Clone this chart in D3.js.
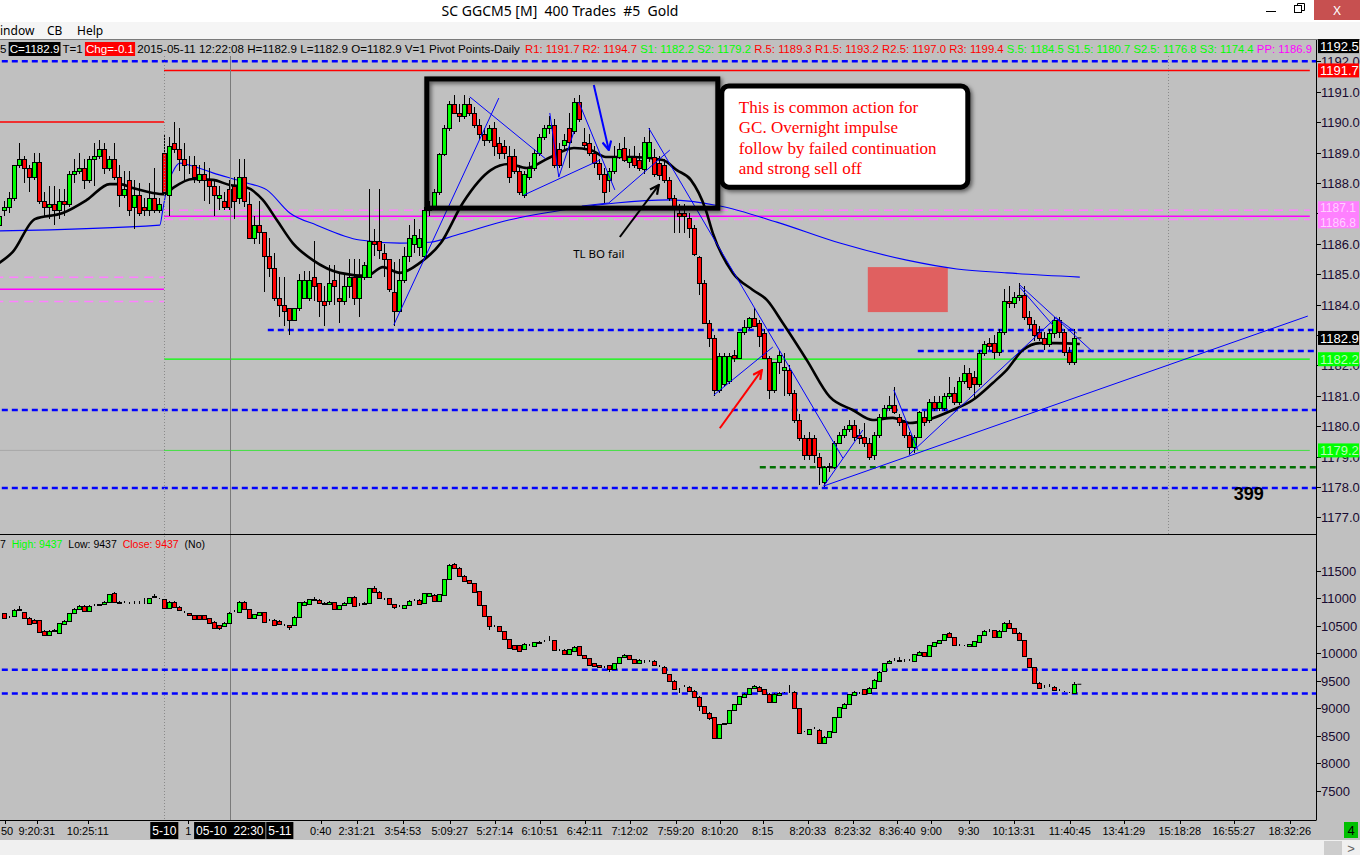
<!DOCTYPE html>
<html><head><meta charset="utf-8">
<script src="https://cdn.jsdelivr.net/npm/d3@7"></script>
<style>
html,body{margin:0;padding:0;background:#fff;overflow:hidden}
svg{display:block;font-family:"Liberation Sans",Arial,sans-serif}
</style></head><body>
<svg id="c" width="1360" height="855"></svg>
<script>
// ---------------- DATA ----------------
const windowTitle = "SC GGCM5 [M]  400 Trades  #5  Gold";
const menuItems = ["indow", "CB", "Help"];

// price bars (400-trade bars), [open, high, low, close]
const priceBars = [
[1186.6,1187.2,1186.3,1186.9],[1187.1,1187.4,1186.9,1187.2],[1187.2,1187.7,1187.0,1187.5],[1187.5,1188.6,1187.4,1188.6],
[1188.6,1189.3,1188.5,1188.8],[1188.8,1188.9,1188.0,1188.5],[1188.5,1188.6,1187.7,1188.2],[1188.2,1189.0,1188.1,1188.7],
[1188.7,1189.0,1187.3,1187.4],[1187.4,1187.7,1186.9,1187.2],[1187.2,1187.9,1186.8,1187.3],[1187.3,1187.9,1186.6,1187.1],
[1187.1,1187.8,1186.8,1187.4],[1187.4,1187.8,1186.9,1187.3],[1187.3,1188.4,1187.2,1188.3],[1188.3,1188.8,1188.0,1188.4],
[1188.4,1189.0,1188.3,1188.5],[1188.5,1188.8,1187.8,1188.1],[1188.1,1188.9,1188.0,1188.8],[1188.8,1189.3,1187.9,1188.9],
[1188.9,1189.4,1188.8,1189.1],[1189.1,1189.3,1188.3,1188.5],[1188.5,1188.9,1188.4,1188.8],[1188.8,1189.3,1188.1,1188.2],
[1188.2,1188.6,1187.2,1187.6],[1187.6,1188.4,1187.5,1187.8],[1188.1,1188.4,1186.9,1187.1],[1187.2,1188.1,1186.5,1187.6],
[1187.6,1188.0,1186.9,1187.0],[1187.2,1187.5,1186.9,1187.1],[1187.1,1188.0,1186.9,1187.5],[1187.5,1188.5,1187.0,1187.1],
[1187.1,1187.5,1187.0,1187.3],[1189.0,1189.6,1187.7,1187.7],[1187.6,1189.5,1186.9,1189.2],[1189.3,1190.0,1189.0,1189.1],
[1189.1,1189.8,1188.4,1188.8],[1188.8,1189.3,1188.1,1188.6],[1188.6,1188.9,1188.3,1188.6],[1188.6,1188.9,1188.0,1188.2],
[1188.1,1188.6,1188.0,1188.3],[1188.3,1188.7,1187.4,1188.1],[1188.1,1188.5,1187.3,1187.9],[1187.9,1188.1,1186.9,1187.6],
[1187.5,1187.9,1187.1,1187.6],[1187.4,1187.7,1187.1,1187.2],[1187.8,1188.1,1187.1,1187.2],[1187.9,1188.2,1186.8,1187.4],
[1187.5,1188.8,1187.3,1188.2],[1188.2,1188.8,1187.2,1187.4],[1187.3,1187.7,1186.2,1186.2],[1186.2,1186.9,1186.0,1186.6],
[1186.6,1187.4,1186.0,1186.4],[1186.4,1186.4,1184.4,1185.6],[1185.6,1186.2,1184.9,1185.2],[1185.2,1185.7,1184.1,1184.2],
[1184.2,1184.9,1183.6,1184.0],[1184.0,1184.9,1183.3,1183.8],[1183.9,1183.9,1183.0,1183.5],[1183.5,1183.9,1183.5,1183.9],
[1183.9,1185.0,1183.8,1184.8],[1184.2,1185.1,1184.2,1184.8],[1184.2,1185.1,1184.1,1184.8],[1184.9,1186.1,1184.1,1184.6],
[1184.7,1184.7,1183.6,1184.1],[1184.1,1184.6,1183.3,1184.0],[1184.1,1185.3,1184.0,1184.7],[1184.8,1185.3,1184.0,1184.6],
[1184.2,1185.0,1183.4,1184.1],[1184.1,1185.0,1184.0,1184.6],[1184.6,1185.5,1184.2,1184.9],[1184.9,1185.5,1184.0,1184.2],
[1184.2,1185.5,1183.6,1184.9],[1184.9,1185.4,1184.8,1185.3],[1184.9,1187.8,1184.9,1186.1],[1186.1,1186.5,1185.6,1186.0],
[1186.1,1187.8,1185.5,1185.8],[1185.7,1186.0,1184.9,1185.5],[1185.5,1185.5,1184.4,1184.5],[1184.4,1185.4,1183.3,1183.8],
[1183.8,1185.5,1183.8,1184.8],[1184.8,1185.9,1184.7,1185.6],[1185.6,1186.6,1185.4,1186.2],[1186.0,1186.8,1185.7,1186.3],
[1185.9,1186.5,1185.6,1186.2],[1185.6,1187.2,1185.5,1187.1],[1187.1,1187.4,1186.9,1187.2],[1187.2,1187.8,1187.1,1187.7],
[1187.7,1189.0,1187.6,1188.95],[1188.95,1189.9,1188.9,1189.8],[1189.8,1190.7,1189.7,1190.6],[1190.6,1190.9,1190.3,1190.3],
[1190.3,1190.6,1190.0,1190.2],[1190.2,1190.9,1190.1,1190.6],[1190.6,1190.8,1190.2,1190.3],[1190.3,1190.5,1189.8,1189.9],
[1189.9,1190.1,1189.4,1189.6],[1189.6,1189.8,1189.2,1189.4],[1189.4,1189.9,1189.3,1189.8],[1189.8,1190.0,1188.9,1189.2],
[1189.3,1189.5,1188.8,1189.0],[1189.2,1189.4,1188.8,1189.0],[1188.9,1189.2,1188.0,1188.2],[1188.9,1189.1,1188.3,1188.4],
[1188.4,1188.6,1187.6,1187.7],[1187.6,1188.4,1187.5,1188.3],[1188.2,1188.7,1188.1,1188.5],[1188.5,1189.1,1188.4,1189.0],
[1189.0,1189.6,1188.9,1189.5],[1189.5,1189.9,1189.4,1189.8],[1189.8,1190.2,1189.6,1189.9],[1189.9,1190.1,1188.5,1188.6],
[1189.1,1189.3,1188.5,1188.6],[1189.25,1189.6,1189.1,1189.4],[1189.8,1190.3,1188.5,1189.35],[1189.7,1190.8,1189.6,1190.65],
[1190.65,1190.9,1190.0,1190.1],[1189.35,1189.8,1189.1,1189.25],[1189.3,1189.6,1188.9,1189.0],[1189.0,1189.2,1188.5,1188.65],
[1188.65,1188.8,1188.1,1188.3],[1188.3,1188.5,1187.35,1187.7],[1188.1,1188.5,1187.7,1188.4],[1188.4,1189.2,1188.3,1188.85],
[1188.85,1189.3,1188.8,1189.1],[1189.15,1189.5,1188.7,1188.75],[1188.7,1189.1,1188.5,1188.85],[1188.85,1189.2,1188.5,1188.6],
[1188.75,1189.0,1188.4,1188.5],[1188.45,1189.5,1188.3,1189.35],[1188.85,1189.8,1188.7,1189.35],[1188.85,1189.1,1188.2,1188.3],
[1188.65,1188.9,1188.1,1188.25],[1188.6,1188.8,1188.0,1188.1],[1188.1,1188.2,1187.4,1187.5],[1187.5,1187.6,1186.35,1187.2],
[1187.0,1187.3,1186.35,1186.9],[1187.0,1187.3,1186.35,1186.9],[1186.85,1187.0,1186.2,1186.5],[1186.5,1186.6,1185.6,1185.65],
[1185.55,1185.6,1184.3,1184.7],[1184.7,1184.8,1183.4,1183.4],[1183.4,1183.5,1182.6,1182.9],[1182.9,1183.0,1181.0,1181.2],
[1181.2,1182.4,1181.1,1182.3],[1181.4,1182.4,1181.3,1182.3],[1181.5,1182.4,1181.4,1182.3],[1182.35,1182.5,1182.1,1182.25],
[1182.25,1183.1,1182.2,1183.1],[1183.1,1183.5,1183.0,1183.25],[1183.25,1183.6,1183.2,1183.55],[1183.55,1183.9,1183.3,1183.3],
[1183.4,1183.5,1182.6,1182.95],[1183.05,1183.2,1182.2,1182.25],[1182.25,1182.3,1180.9,1181.2],[1181.2,1182.1,1181.1,1182.1],
[1182.1,1182.5,1181.7,1182.35],[1181.85,1182.4,1181.0,1181.95],[1181.85,1182.0,1181.0,1181.1],[1181.1,1181.2,1180.1,1180.2],
[1180.2,1180.4,1179.5,1179.6],[1179.6,1179.7,1178.9,1179.05],[1179.6,1179.8,1178.9,1179.05],[1179.6,1179.7,1178.8,1179.05],
[1179.0,1179.1,1178.05,1178.65],[1178.15,1178.7,1178.0,1178.65],[1178.65,1178.8,1178.5,1178.7],[1178.65,1179.5,1178.6,1179.45],
[1179.45,1179.8,1179.4,1179.7],[1179.7,1180.0,1179.6,1179.9],[1179.9,1180.2,1179.8,1180.05],[1180.05,1180.2,1179.5,1179.65],
[1179.7,1179.9,1179.4,1179.6],[1179.65,1180.1,1179.3,1179.45],[1179.45,1179.6,1178.9,1179.0],[1179.05,1179.8,1178.9,1179.7],
[1179.7,1180.4,1179.6,1180.3],[1180.3,1180.7,1180.2,1180.6],[1180.6,1181.0,1180.5,1180.7],[1180.7,1181.3,1180.4,1180.45],
[1180.3,1180.4,1180.0,1180.15],[1180.15,1180.2,1179.6,1179.7],[1179.7,1179.8,1179.05,1179.3],[1179.3,1179.7,1179.1,1179.65],
[1179.65,1180.5,1179.6,1180.45],[1180.3,1180.5,1180.0,1180.15],[1180.2,1180.9,1180.1,1180.8],[1180.8,1181.0,1180.5,1180.6],
[1180.6,1181.0,1180.5,1180.8],[1180.6,1181.1,1180.5,1181.0],[1181.0,1181.6,1180.9,1181.1],[1181.1,1181.3,1180.7,1180.8],
[1180.8,1181.6,1180.7,1181.5],[1181.5,1182.0,1181.4,1181.75],[1181.75,1181.9,1181.2,1181.3],[1181.6,1181.8,1180.9,1181.4],
[1181.4,1182.5,1181.3,1182.4],[1182.4,1182.8,1182.3,1182.7],[1182.75,1182.9,1182.5,1182.65],[1182.75,1183.0,1182.2,1182.45],
[1182.45,1183.2,1182.3,1183.1],[1183.1,1184.5,1183.0,1184.1],[1184.1,1184.6,1183.9,1184.05],[1184.05,1184.4,1183.9,1184.25],
[1184.25,1184.7,1184.1,1184.3],[1184.3,1184.6,1183.5,1183.6],[1183.6,1183.8,1183.2,1183.35],[1183.35,1183.5,1182.8,1183.0],
[1183.1,1183.3,1182.8,1182.9],[1182.9,1183.1,1182.5,1182.7],[1182.7,1183.2,1182.6,1183.05],[1183.05,1183.6,1182.9,1183.5],
[1183.5,1183.6,1182.9,1183.1],[1183.1,1183.2,1182.3,1182.45],[1182.45,1182.6,1182.0,1182.1],[1182.1,1183.2,1182.0,1182.9]
];

// lower study (one bar later on the time axis), [open, high, low, close]
const studyBars = [
[10727,10740,10640,10648],[10660,10680,10650,10666],[10678,10800,10670,10787],[10790,10860,10770,10800],[10745,10760,10630,10648],
[10648,10660,10520,10533],[10605,10620,10530,10545],[10605,10610,10390,10393],[10412,10420,10320,10327],[10327,10420,10320,10412],
[10405,10440,10390,10415],[10375,10550,10370,10545],[10533,10600,10520,10587],[10587,10730,10580,10727],[10727,10820,10720,10805],
[10799,10870,10790,10860],[10860,10870,10760,10769],[10775,10870,10770,10860],[10870,10900,10860,10878],[10885,10905,10880,10890],
[10890,10950,10880,10939],[10927,11080,10920,11072],[11090,11110,10920,10927],[10925,10960,10915,10920],[10920,10955,10915,10920],
[10910,10940,10900,10908],[10908,10945,10900,10912],[10915,10960,10905,10920],[10908,11000,10890,10915],[10908,11010,10900,11000],
[11030,11080,11025,11035],[10990,11000,10980,10985],[10981,10990,10810,10818],[10818,10950,10810,10939],[10939,10950,10830,10836],
[10848,10855,10780,10787],[10760,10770,10740,10757],[10727,10735,10690,10696],[10696,10705,10610,10618],[10696,10705,10610,10618],
[10696,10705,10610,10618],[10636,10645,10550,10557],[10575,10580,10460,10466],[10514,10520,10420,10454],[10496,10570,10490,10557],
[10545,10750,10540,10739],[10765,10790,10750,10769],[10757,10950,10750,10939],[10939,10950,10790,10799],[10799,10805,10640,10648],
[10648,10715,10640,10708],[10696,10760,10690,10751],[10751,10760,10565,10575],[10600,10620,10590,10605],[10605,10615,10505,10514],
[10587,10600,10520,10533],[10515,10540,10505,10514],[10514,10520,10420,10472],[10514,10680,10505,10666],[10666,10935,10660,10927],
[10878,10950,10870,10939],[10896,10990,10890,10981],[10975,11030,10965,10981],[10969,10980,10900,10908],[10905,10925,10880,10908],
[10896,10960,10890,10939],[10927,10935,10790,10799],[10799,10885,10790,10878],[10878,10930,10870,10920],[10920,11025,10910,11018],
[11030,11040,10850,10860],[10890,10910,10860,10896],[10896,10930,10890,10920],[10908,11190,10900,11181],[11193,11230,11100,11108],
[11120,11130,10990,11000],[10990,11000,10970,10987],[11000,11010,10880,10890],[10890,10900,10810,10836],[10860,10880,10840,10855],
[10818,10885,10810,10878],[10878,10965,10870,10957],[10965,10990,10950,10969],[10969,10980,10885,10896],[10908,11100,10900,11090],
[11048,11100,11040,11090],[11060,11070,10950,10957],[10957,11080,10950,11072],[11060,11355,11050,11345],[11345,11615,11340,11605],
[11617,11650,11550,11557],[11557,11565,11400,11411],[11411,11420,11305,11314],[11333,11340,11265,11272],[11272,11280,11110,11120],
[11133,11140,10870,10878],[10878,10885,10670,10678],[10678,10685,10430,10496],[10500,10520,10480,10496],[10496,10505,10395,10405],
[10405,10410,10245,10254],[10254,10260,10080,10090],[10151,10160,10070,10078],[10151,10160,10020,10048],[10078,10180,10070,10169],
[10150,10170,10140,10151],[10139,10210,10130,10199],[10195,10215,10185,10199],[10220,10240,10210,10224],[10240,10315,10230,10242],
[10242,10250,10050,10060],[10055,10075,10045,10060],[10060,10070,9970,9981],[9981,10080,9975,10072],[10042,10130,10035,10121],
[10133,10140,9955,9963],[9963,9970,9900,9909],[9909,9915,9780,9787],[9818,9825,9765,9775],[9787,9795,9735,9745],
[9757,9770,9740,9750],[9787,9795,9654,9709],[9709,9825,9700,9818],[9818,9935,9810,9927],[9927,9990,9920,9963],
[9963,9975,9885,9890],[9890,9900,9810,9818],[9818,9890,9810,9878],[9845,9870,9830,9848],[9858,9880,9845,9860],
[9860,9870,9780,9787],[9770,9790,9755,9769],[9757,9765,9640,9648],[9624,9630,9495,9503],[9503,9510,9335,9345],
[9345,9360,9272,9342],[9393,9420,9380,9396],[9393,9400,9310,9321],[9321,9330,9200,9212],[9212,9220,8950,9042],
[9042,9050,8910,8921],[8921,8930,8780,8818],[8836,8840,8450,8454],[8454,8720,8450,8715],[8720,8740,8690,8727],
[8727,8975,8720,8969],[8969,9085,8960,9078],[9078,9230,9070,9224],[9212,9270,9205,9260],[9260,9370,9250,9363],
[9363,9420,9355,9406],[9393,9410,9315,9321],[9345,9355,9250,9260],[9260,9270,9115,9121],[9121,9270,9115,9260],
[9242,9295,9235,9284],[9280,9300,9270,9284],[9284,9420,9270,9286],[9303,9310,8995,9000],[9000,9005,8540,8545],
[8575,8590,8560,8578],[8533,8630,8525,8618],[8636,8660,8615,8640],[8606,8615,8355,8363],[8363,8490,8355,8485],
[8485,8595,8480,8588],[8575,8840,8570,8836],[8836,9025,8830,9018],[9000,9090,8995,9078],[9078,9265,9070,9260],
[9242,9320,9235,9303],[9270,9290,9255,9272],[9345,9355,9250,9260],[9272,9385,9265,9375],[9363,9525,9355,9515],
[9503,9675,9495,9666],[9684,9830,9675,9818],[9818,9880,9810,9866],[9875,9910,9860,9878],[9866,9930,9850,9870],
[9866,9890,9850,9866],[9875,9900,9860,9878],[9860,9990,9850,9981],[9969,10040,9960,10030],[10018,10025,9950,9957],
[9957,10160,9950,10151],[10139,10210,10130,10199],[10193,10250,10185,10242],[10242,10355,10235,10345],[10363,10385,10285,10290],
[10290,10295,10145,10151],[10150,10170,10135,10151],[10140,10150,10125,10139],[10139,10175,10130,10169],[10139,10230,10130,10224],
[10212,10340,10205,10333],[10333,10415,10325,10405],[10405,10445,10395,10410],[10418,10425,10295,10302],[10302,10415,10295,10405],
[10405,10565,10400,10557],[10557,10600,10445,10454],[10454,10460,10365,10375],[10375,10380,10235,10242],[10242,10250,9945,9951],
[9909,9915,9740,9745],[9745,9755,9460,9466],[9466,9475,9355,9363],[9393,9415,9370,9396],[9406,9440,9390,9410],
[9393,9400,9325,9333],[9335,9350,9320,9333],[9305,9320,9290,9303],[9285,9300,9270,9284],[9284,9470,9280,9437]
];

// moving averages: [bar index, price]
const fastMA = [[0,1185.37],[2.7,1185.73],[7.1,1186.81],[12.7,1187.01],[17.5,1187.44],[22.1,1187.96],[24.1,1187.96],[26.7,1187.83],
[30.7,1187.67],[33.1,1187.63],[34.7,1187.83],[38.7,1188.13],[42.7,1188.10],[46.1,1187.93],[49.1,1187.87],[52.7,1187.44],
[55.5,1186.78],[58.7,1186.02],[62.7,1185.46],[68.1,1185.04],[73.5,1184.94],[76.7,1185.23],[80.1,1185.04],[84.1,1185.37],
[88.3,1186.02],[92.7,1187.34],[98.3,1188.42],[101.9,1188.62],[105.5,1188.49],[109.9,1188.82],[114.9,1189.15],[118.3,1189.08],
[121.3,1188.85],[126.9,1188.85],[132.7,1188.75],[135.5,1188.42],[138.3,1188.10],[141.3,1187.11],[142.7,1186.35],[146.7,1185.04],
[150.7,1184.48],[153.5,1184.15],[156.7,1183.39],[161.5,1182.17],[166.1,1180.96],[170.7,1180.53],[174.7,1180.20],[178.7,1180.27],
[182.1,1180.10],[185.5,1180.20],[190.7,1180.53],[194.7,1180.86],[198.7,1181.42],[201.5,1181.85],[204.7,1182.50],[208.1,1182.73],
[211.5,1182.73],[216.1,1182.70]];
const slowMA = [[0,1186.42],[32.1,1186.61],[32.7,1187.11],[33.6,1187.9],[34.6,1188.33],[36.1,1188.65],[38.1,1188.58],[42.7,1188.33],
[49.5,1188.0],[53.5,1187.77],[58.1,1187.01],[63.5,1186.61],[72.1,1186.12],[80.1,1186.02],[86.1,1186.05],[91.3,1186.28],
[101.9,1186.78],[112.7,1187.11],[123.3,1187.34],[134.1,1187.44],[144.1,1187.24],[155.5,1186.71],[168.1,1186.02],[181.5,1185.46],
[191.5,1185.17],[201.5,1185.04],[216.1,1184.90]];

// pivot levels
const prevDayLevels = [1190.0, 1184.5, 1184.9, 1184.1, 1179.2]; // R1, PP, PP band hi, PP band lo, S2
const todayLevels = [1191.7, 1186.9, 1187.1, 1186.8, 1182.2, 1179.2]; // R1, PP, band hi, band lo, S1, S2
const dayBreakBar = 32.94;
const levelsEndBar = 262.1;
// user-drawn horizontal lines
const blueLevelsFull = [1192.0, 1180.53, 1177.96];
const blueLevelsPartial = [[1183.16, 53.7], [1182.47, 183.7]]; // [price, start bar]
const greenDashed = [1178.65, 152.1];
const studyLevels = [9700, 9270];
const cursorBar = 46.1;
const dottedBar = 233.7;

// trend lines: [bar1, price1, bar2, price2]
const trendLines = [[78.9,1183.33,99.9,1190.79],[94.1,1190.83,109.2,1188.8],[104.9,1187.6,120.1,1188.75],[110.1,1190.3,111.9,1188.19],
[111.9,1188.19,114.9,1189.67],[115.9,1190.66,123.1,1187.77],[121.9,1187.34,134.1,1189.08],[116.5,1187.24,121.9,1187.34],
[129.9,1189.8,168.7,1178.95],[142.9,1181.02,154.7,1182.6],[164.9,1178.03,172.7,1179.87],[164.9,1178.03,261.7,1183.62],
[178.9,1181.19,183.7,1179.21],[181.9,1179.05,211.5,1183.59],[204.1,1184.64,218.7,1182.44],[204.1,1184.57,210.7,1183.32],
[211.5,1183.55,215.5,1183.06]];
const blackArrow = [124.1,1186.22,131.9,1187.93];
const blueArrow = [118.9,1191.22,121.9,1189.08];
const redArrow = [144.1,1179.93,152.5,1181.84];
const boxZone = [85.5,1191.42,143.7,1187.17];
const noteBox = [144.5,1191.19,193.7,1187.86];
const redZone = [173.7,1185.23,189.7,1183.75];
const noteLines = ["This is common action for","GC. Overnight impulse","follow by failed continuation","and strong sell off"];
const tlLabel = ["TL BO fail", 119.9, 1185.53];
const countLabel = ["399", 249.9, 1177.57];

// axes
const priceTicks = [1177,1178,1179,1180,1181,1182,1183,1184,1185,1186,1187,1188,1189,1190,1191,1192];
const hiddenPriceLabels = [1183, 1187]; // covered by price flags in the original
const studyTicks = [7500,8000,8500,9000,9500,10000,10500,11000,11500];
const timeTickBars = [1.1,7.5,17.7,37.8,64.3,71.5,80.7,90.1,99.1,108.1,117.1,126.1,135.3,144.1,152.7,161.7,170.7,179.6,186.4,193.9,202.9,214.1,224.9,236.1,246.9,258.1];
const timeTickLabels = ["50","9:20:31","10:25:11","1","0:40","2:31:21","3:54:53","5:09:27","5:27:14","6:10:51","6:42:11","7:12:02","7:59:20","8:10:20","8:15","8:20:33","8:23:32","8:36:40","9:00","9:30","10:13:31","11:40:45","13:41:29","15:18:28","16:55:27","18:32:26"];
const dateFlags = [["5-10", 33.0], ["05-10  22:30", 46.1], ["5-11", 56.1]];
const priceFlags = [[1192.5,"1192.5","#000","#fff"],[1191.7,"1191.7","#ff0000","#fff"],[1182.9,"1182.9","#000","#fff"],[1182.2,"1182.2","#00ff00","#b8ffb8"],[1179.2,"1179.2","#00ff00","#b8ffb8"]];
const ppFlag = [1187.1, 1186.8];
const headLeft = [["5 ","#000",null],["C=1182.9","#fff","#000"],[" T=1 ","#000",null],["Chg=-0.1","#fff","#ff0000"],[" 2015-05-11 12:22:08 H=1182.9 L=1182.9 O=1182.9 V=1 Pivot Points-Daily","#000",null]];
const headRight = [["R1: 1191.7 ","#ff0000"],["R2: 1194.7 ","#ff0000"],["S1: 1182.2 ","#00ff00"],["S2: 1179.2 ","#00ff00"],["R.5: 1189.3 ","#ff0000"],["R1.5: 1193.2 ","#ff0000"],["R2.5: 1197.0 ","#ff0000"],["R3: 1199.4 ","#ff0000"],["S.5: 1184.5 ","#00ff00"],["S1.5: 1180.7 ","#00ff00"],["S2.5: 1176.8 ","#00ff00"],["S3: 1174.4 ","#00ff00"],["PP: 1186.9","#ff00ff"]];
const studyHead = [["7  ","#000"],["High: 9437  ","#00ff00"],["Low: 9437  ","#000"],["Close: 9437  ","#ff0000"],["(No)","#000"]];

// ---------------- DRAW ----------------
const svg = d3.select('#c');
const x = d3.scaleLinear().domain([0, 263]).range([-0.7, 1314.3]);
const yP = d3.scaleLinear().domain([1176.5, 1193]).range([532.5, 30.9]);
const yV = d3.scaleLinear().domain([6969, 12151]).range([820, 535]);
const AX = 1316;

const defs = svg.append('defs');
defs.append('clipPath').attr('id','cpTop').append('rect').attr('x',0).attr('y',56).attr('width',AX).attr('height',478);
defs.append('clipPath').attr('id','cpLow').append('rect').attr('x',0).attr('y',535).attr('width',AX).attr('height',285);
const f = defs.append('filter').attr('id','sh').attr('x','-5%').attr('y','-10%').attr('width','115%').attr('height','130%');
f.append('feDropShadow').attr('dx',2).attr('dy',2).attr('stdDeviation',2).attr('flood-color','#000').attr('flood-opacity',0.55);
[['ahK','#000'],['ahB','#0000ff'],['ahR','#ff0000']].forEach(([id,c])=>{
  defs.append('marker').attr('id',id).attr('viewBox','0 0 10 10').attr('refX',9).attr('refY',5)
    .attr('markerWidth',11).attr('markerHeight',11).attr('markerUnits','userSpaceOnUse').attr('orient','auto')
    .append('path').attr('d','M1,1 L9,5 L1,9').attr('fill','none').attr('stroke',c).attr('stroke-width',2);
});

// window chrome
svg.append('rect').attr('width',1360).attr('height',855).attr('fill','#ffffff');
svg.append('rect').attr('x',0).attr('y',22).attr('width',1360).attr('height',17).attr('fill','#f5f5f5');
svg.append('text').attr('x',560).attr('y',16).attr('text-anchor','middle').style('white-space','pre')
  .style('font-family','"Noto Sans","Open Sans",sans-serif').style('font-size','14px').attr('fill','#000').text(windowTitle);
svg.append('line').attr('x1',1266).attr('x2',1276).attr('y1',11.5).attr('y2',11.5).attr('stroke','#000');
svg.append('rect').attr('x',1294.5).attr('y',5.5).attr('width',7).attr('height',7).attr('fill','none').attr('stroke','#000');
svg.append('path').attr('d','M1297.5,5.5 V3.5 H1304.5 V10.5 H1301.5').attr('fill','none').attr('stroke','#000');
svg.append('rect').attr('x',1314).attr('y',0).attr('width',46).attr('height',20).attr('fill','#c75050');
svg.append('text').attr('x',1337).attr('y',15).attr('text-anchor','middle').attr('fill','#fff')
  .style('font-family','"Noto Sans",sans-serif').style('font-size','13px').text('X');
const menuX = [0, 47, 77];
menuItems.forEach((m,i)=>svg.append('text').attr('x',menuX[i]).attr('y',35).style('font-family','"Noto Sans","Open Sans",sans-serif')
  .style('font-size','12px').attr('fill','#000').text(m));

// chart background
svg.append('rect').attr('x',0).attr('y',39).attr('width',1360).attr('height',801).attr('fill','#c0c0c0');
svg.append('rect').attr('x',0).attr('y',840).attr('width',1360).attr('height',15).attr('fill','#f0f0f0');
svg.append('rect').attr('x',1324).attr('y',841).attr('width',18).attr('height',14).attr('fill','#cdcdcd');
svg.append('text').attr('x',1351).attr('y',853).attr('text-anchor','middle').style('font-size','13px').attr('fill','#606060').text('>');
svg.append('line').attr('x1',0).attr('x2',1360).attr('y1',39.5).attr('y2',39.5).attr('stroke','#7a7a7a');

// ---- top panel
const gT = svg.append('g').attr('clip-path','url(#cpTop)');
function hline(g, p, b0, b1, col, w, dash) {
  const l = g.append('line').attr('x1',x(b0)).attr('x2',x(b1)).attr('y1',yP(p)).attr('y2',yP(p))
    .attr('stroke',col).attr('stroke-width',w);
  if (dash) l.attr('stroke-dasharray',dash);
  return l;
}
hline(gT, prevDayLevels[0], -1, dayBreakBar, '#ff0000', 1.5);
hline(gT, prevDayLevels[2], -1, dayBreakBar, '#ff80ff', 1.5, '9,6');
hline(gT, prevDayLevels[3], -1, dayBreakBar, '#ff80ff', 1.5, '9,6');
hline(gT, prevDayLevels[1], -1, dayBreakBar, '#ff00ff', 1.5);
hline(gT, prevDayLevels[4], -1, dayBreakBar, '#a8a8a8', 1);
hline(gT, todayLevels[0], dayBreakBar, levelsEndBar, '#ff0000', 1.5);
hline(gT, todayLevels[2], dayBreakBar, levelsEndBar, '#ff80ff', 1.5, '9,6');
hline(gT, todayLevels[3], dayBreakBar, levelsEndBar, '#ff80ff', 1.5, '9,6');
hline(gT, todayLevels[1], dayBreakBar, levelsEndBar, '#ff00ff', 1.5);
hline(gT, todayLevels[4], dayBreakBar, levelsEndBar, '#00ff00', 1.2);
hline(gT, todayLevels[5], dayBreakBar, levelsEndBar, '#40e040', 1);
blueLevelsFull.forEach(p=>hline(gT, p, 0.5, 264, '#0000ff', 2.5, '6,4'));
blueLevelsPartial.forEach(([p,b])=>hline(gT, p, b, 264, '#0000ff', 2.5, '6,4'));
hline(gT, greenDashed[0], greenDashed[1], 264, '#007000', 2.5, '6,4');

// vertical lines
svg.append('line').attr('x1',Math.round(x(dayBreakBar))+0.5).attr('x2',Math.round(x(dayBreakBar))+0.5).attr('y1',56).attr('y2',820)
  .attr('stroke','#8a8a8a').attr('stroke-dasharray','1,2');
svg.append('line').attr('x1',Math.round(x(cursorBar))+0.5).attr('x2',Math.round(x(cursorBar))+0.5).attr('y1',56).attr('y2',820)
  .attr('stroke','#7a7a7a');
gT.append('line').attr('x1',Math.round(x(dottedBar))+0.5).attr('x2',Math.round(x(dottedBar))+0.5).attr('y1',56).attr('y2',534)
  .attr('stroke','#8a8a8a').attr('stroke-dasharray','1,2');

// red zone
gT.append('rect').attr('x',x(redZone[0])).attr('y',yP(redZone[1])).attr('width',x(redZone[2])-x(redZone[0]))
  .attr('height',yP(redZone[3])-yP(redZone[1])).attr('fill','#e06060');

// moving averages
const lineP = d3.line().x(d=>x(d[0])).y(d=>yP(d[1])).curve(d3.curveMonotoneX);
gT.append('path').attr('d',lineP(slowMA)).attr('fill','none').attr('stroke','#0000ff').attr('stroke-width',1.1);
gT.append('path').attr('d',lineP(fastMA)).attr('fill','none').attr('stroke','#000').attr('stroke-width',2.6);

// candles
function drawCandles(g, bars, off, ys) {
  const cg = g.append('g').attr('shape-rendering','crispEdges');
  bars.forEach((b,i)=>{
    const cx = Math.round(x(i+off));
    const [o,h,l,c] = b;
    cg.append('line').attr('x1',cx+0.5).attr('x2',cx+0.5).attr('y1',ys(h)).attr('y2',ys(l)).attr('stroke','#000');
    const top = Math.round(ys(Math.max(o,c))), bot = Math.round(ys(Math.min(o,c)));
    const col = c > o ? '#00ff00' : (c < o ? '#ff0000' : '#000');
    cg.append('rect').attr('x',cx-1.5).attr('y',top+0.5).attr('width',4).attr('height',Math.max(0,bot-top))
      .attr('fill',col).attr('stroke','#000').attr('stroke-width',1);
  });
}
drawCandles(gT, priceBars, 0, yP);
const lastP = priceBars[priceBars.length-1][3];
gT.append('line').attr('x1',x(priceBars.length-1)+3).attr('x2',x(priceBars.length-1)+7).attr('y1',yP(lastP)).attr('y2',yP(lastP)).attr('stroke','#000');

// trend lines
trendLines.forEach(t=>gT.append('line').attr('x1',x(t[0])).attr('y1',yP(t[1])).attr('x2',x(t[2])).attr('y2',yP(t[3]))
  .attr('stroke','#0000ff').attr('stroke-width',1));

// arrows
function arrow(a, col, mid, w) {
  gT.append('line').attr('x1',x(a[0])).attr('y1',yP(a[1])).attr('x2',x(a[2])).attr('y2',yP(a[3]))
    .attr('stroke',col).attr('stroke-width',w).attr('marker-end',`url(#${mid})`);
}
arrow(blackArrow,'#000','ahK',2);
arrow(blueArrow,'#0000ff','ahB',2);
arrow(redArrow,'#ff0000','ahR',2);

// box zone
gT.append('rect').attr('x',x(boxZone[0])).attr('y',yP(boxZone[1])).attr('width',x(boxZone[2])-x(boxZone[0]))
  .attr('height',yP(boxZone[3])-yP(boxZone[1])).attr('fill','none').attr('stroke','#000').attr('stroke-width',5)
  .attr('filter','url(#sh)');
// note box
gT.append('rect').attr('x',x(noteBox[0])).attr('y',yP(noteBox[1])).attr('width',x(noteBox[2])-x(noteBox[0]))
  .attr('height',yP(noteBox[3])-yP(noteBox[1])).attr('rx',7).attr('fill','#fff').attr('stroke','#000').attr('stroke-width',5)
  .attr('filter','url(#sh)');
noteLines.forEach((t,i)=>gT.append('text').attr('x',x(noteBox[0])+17).attr('y',yP(noteBox[1])+27+i*20.3)
  .style('font-family','"Liberation Serif","Times New Roman",serif').style('font-size','17px').attr('fill','#ff0000').text(t));
gT.append('text').attr('x',x(tlLabel[1])).attr('y',yP(tlLabel[2])).attr('text-anchor','middle')
  .style('font-family','"Noto Sans","Open Sans",sans-serif').style('font-size','11.5px').attr('fill','#000').text(tlLabel[0]);
gT.append('text').attr('x',x(countLabel[1])).attr('y',yP(countLabel[2])).attr('text-anchor','middle')
  .style('font-size','18px').style('font-weight','bold').attr('fill','#000').text(countLabel[0]);

// ---- lower panel
const gL = svg.append('g').attr('clip-path','url(#cpLow)');
studyLevels.forEach(v=>gL.append('line').attr('x1',x(0.5)).attr('x2',AX).attr('y1',yV(v)).attr('y2',yV(v))
  .attr('stroke','#0000ff').attr('stroke-width',2.5).attr('stroke-dasharray','6,4'));
drawCandles(gL, studyBars, 1, yV);
const lastV = studyBars[studyBars.length-1][3];
gL.append('line').attr('x1',x(studyBars.length)+3).attr('x2',x(studyBars.length)+7).attr('y1',yV(lastV)).attr('y2',yV(lastV)).attr('stroke','#000');

// panel borders
svg.append('line').attr('x1',0).attr('x2',AX).attr('y1',534.5).attr('y2',534.5).attr('stroke','#000');
svg.append('line').attr('x1',0).attr('x2',AX).attr('y1',820.5).attr('y2',820.5).attr('stroke','#000');
svg.append('line').attr('x1',AX+0.5).attr('x2',AX+0.5).attr('y1',40).attr('y2',820.5).attr('stroke','#000');

// headers
function header(segs, x0, x1, yb) {
  const g = svg.append('g');
  let cx = 0;
  segs.forEach(s=>{
    const t = g.append('text').attr('x',cx).attr('y',yb).attr('fill',s[1]).style('white-space','pre').style('font-size','11px').text(s[0]);
    const w = t.node().getComputedTextLength();
    if (s[2]) g.insert('rect','text').attr('x',cx-1).attr('y',yb-11).attr('width',w+2).attr('height',14).attr('fill',s[2]);
    cx += w;
  });
  const k = x1 ? (x1 - x0) / cx : 1;
  g.attr('transform',`translate(${x0},0) scale(${k},1)`);
}
header(headLeft, 0, 520, 53);
header(headRight, 525, 1312, 53);
header(studyHead.map(s=>[s[0],s[1],null]), 0, 205, 548);

// right axes
const axisCol = '#180a30';
priceTicks.forEach(p=>{
  svg.append('line').attr('x1',AX).attr('x2',AX+5).attr('y1',Math.round(yP(p))+0.5).attr('y2',Math.round(yP(p))+0.5).attr('stroke','#000');
  if (hiddenPriceLabels.indexOf(p) < 0)
    svg.append('text').attr('x',AX+5).attr('y',yP(p)+5).style('font-size','13px').attr('fill',axisCol).text(p.toFixed(1));
});
studyTicks.forEach(v=>{
  svg.append('line').attr('x1',AX).attr('x2',AX+5).attr('y1',Math.round(yV(v))+0.5).attr('y2',Math.round(yV(v))+0.5).attr('stroke','#000');
  svg.append('text').attr('x',AX+5).attr('y',yV(v)+5).style('font-size','13px').attr('fill',axisCol).text(v);
});
const pyT = yP(ppFlag[0]), pyB = yP(ppFlag[1]);
svg.append('rect').attr('x',AX+2).attr('y',pyT-9).attr('width',41).attr('height',pyB-pyT+18).attr('fill','#ff80ff');
svg.append('text').attr('x',AX+4).attr('y',pyT+2).style('font-size','12px').attr('fill','#ffd0ff').text(ppFlag[0].toFixed(1));
svg.append('text').attr('x',AX+4).attr('y',pyB+8).style('font-size','12px').attr('fill','#ffd0ff').text(ppFlag[1].toFixed(1));
priceFlags.forEach(([p,t,bg,fg])=>{
  svg.append('rect').attr('x',AX+2).attr('y',yP(p)-7).attr('width',41).attr('height',14).attr('fill',bg);
  svg.append('text').attr('x',AX+4).attr('y',yP(p)+5).style('font-size','13px').attr('fill',fg).text(t);
});

// time axis
timeTickBars.forEach((b,i)=>{
  const px = Math.round(x(b))+0.5;
  svg.append('line').attr('x1',px).attr('x2',px).attr('y1',821).attr('y2',824).attr('stroke','#000');
  svg.append('text').attr('x',Math.max(x(b),7)).attr('y',835).attr('text-anchor','middle').style('font-size','11px').attr('fill','#000').text(timeTickLabels[i]);
});
dateFlags.forEach(([t,b])=>{
  const tx = svg.append('text').attr('x',x(b)).attr('y',835).attr('text-anchor','middle').style('white-space','pre')
    .style('font-size','12px').attr('fill','#fff').text(t);
  const w = tx.node().getComputedTextLength();
  svg.insert('rect', function(){ return tx.node(); }).attr('x',x(b)-w/2-2).attr('y',822).attr('width',w+4).attr('height',17).attr('fill','#000');
});
svg.append('rect').attr('x',1344).attr('y',822).attr('width',14).attr('height',16).attr('fill','#00c000');
svg.append('text').attr('x',1351).attr('y',835).attr('text-anchor','middle').style('font-size','13px').attr('fill','#000').text('4');
</script>
</body></html>
